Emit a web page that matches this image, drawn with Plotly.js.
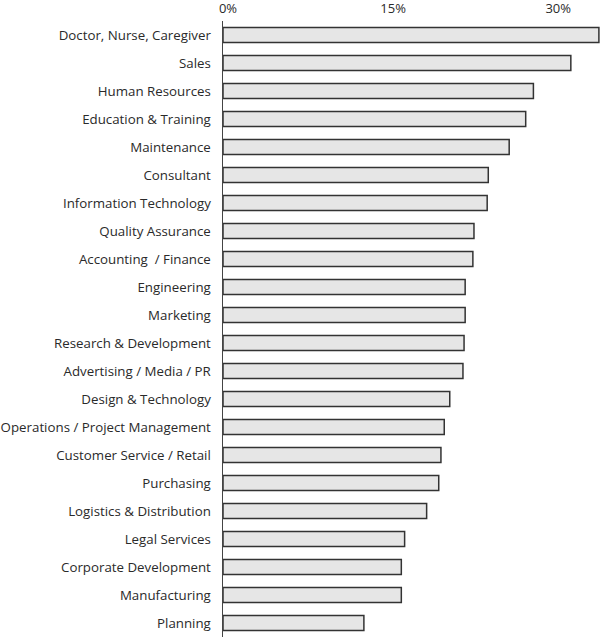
<!DOCTYPE html>
<html>
<head>
<meta charset="utf-8">
<script src="https://cdn.plot.ly/plotly-3.0.1.min.js"></script>
<style>html,body{margin:0;padding:0;background:#fff;}#chart{width:600px;height:638px;}</style>
</head>
<body>
<div id="chart"></div>
<script>
const categories = [
  "Doctor, Nurse, Caregiver",
  "Sales",
  "Human Resources",
  "Education & Training",
  "Maintenance",
  "Consultant",
  "Information Technology",
  "Quality Assurance",
  "Accounting  / Finance",
  "Engineering",
  "Marketing",
  "Research & Development",
  "Advertising / Media / PR",
  "Design & Technology",
  "Operations / Project Management",
  "Customer Service / Retail",
  "Purchasing",
  "Logistics & Distribution",
  "Legal Services",
  "Corporate Development",
  "Manufacturing",
  "Planning"
];
const values = [34.15, 31.6, 28.2, 27.5, 26.0, 24.1, 24.0, 22.8, 22.7, 22.0, 22.0, 21.9, 21.8, 20.6, 20.1, 19.8, 19.6, 18.5, 16.5, 16.2, 16.2, 12.8];
const tickValues = [0, 15, 30];
const tickLabels = ["0%", "15%", "30%"];

const trace = {
  type: "bar",
  orientation: "h",
  y: categories,
  x: values,
  marker: {color: "#e6e6e6", line: {color: "#333333", width: 1.5}},
  hoverinfo: "none"
};

const layout = {
  width: 600,
  height: 638,
  margin: {l: 223, r: 0, t: 21, b: 1, pad: 0},
  paper_bgcolor: "#ffffff",
  plot_bgcolor: "#ffffff",
  bargap: 0.46,
  showlegend: false,
  font: {family: "Open Sans, sans-serif", size: 13.3, color: "#2a2a2a"},
  xaxis: {
    side: "top",
    range: [0, 34.25],
    tickvals: tickValues,
    ticktext: tickLabels,
    showgrid: false,
    zeroline: false,
    showline: false,
    ticks: "",
    ticklabelshift: 5,
    ticklabelstandoff: 4,
    tickfont: {family: "Open Sans, sans-serif", size: 13, color: "#2a2a2a"},
    fixedrange: true
  },
  yaxis: {
    autorange: "reversed",
    type: "category",
    showgrid: false,
    zeroline: false,
    showline: true,
    linecolor: "#444444",
    linewidth: 1.5,
    ticks: "",
    ticklabelstandoff: 8,
    tickfont: {family: "Open Sans, sans-serif", size: 13.3, color: "#2a2a2a"},
    fixedrange: true
  }
};

Plotly.newPlot("chart", [trace], layout, {displayModeBar: false, staticPlot: true});
</script>
</body>
</html>
